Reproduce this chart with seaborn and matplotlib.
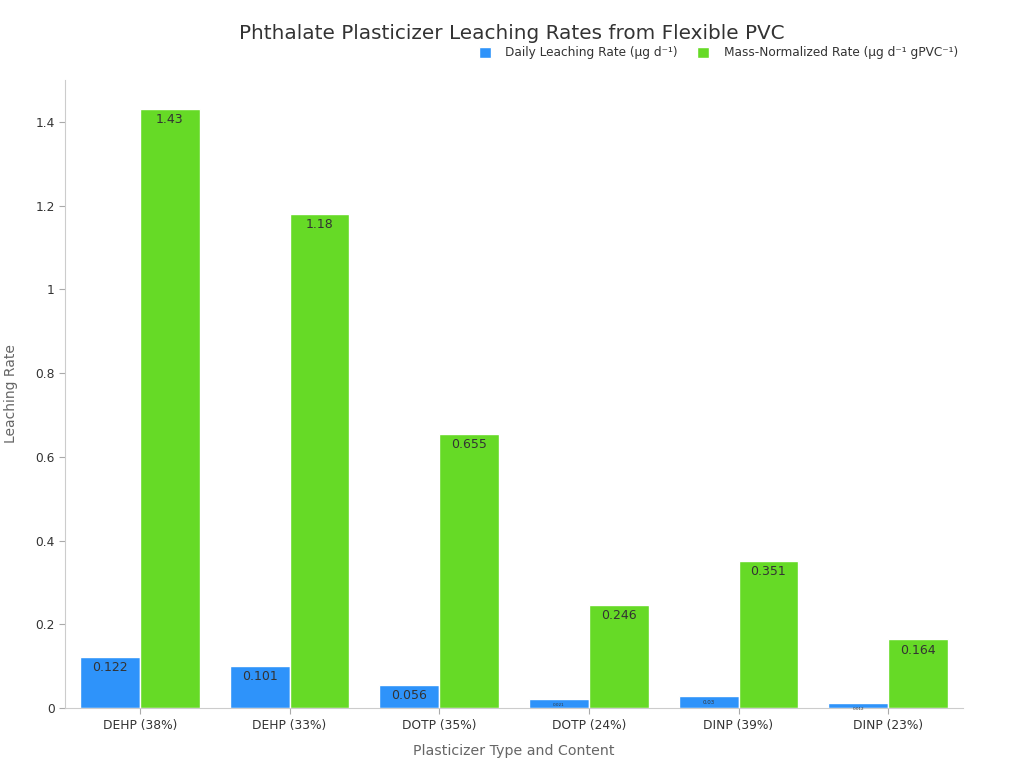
import matplotlib
matplotlib.use("Agg")
import matplotlib.pyplot as plt
import seaborn as sns
import pandas as pd
from matplotlib.ticker import FuncFormatter

categories = ["DEHP (38%)", "DEHP (33%)", "DOTP (35%)", "DOTP (24%)", "DINP (39%)", "DINP (23%)"]
daily_rate = [0.122, 0.101, 0.056, 0.021, 0.03, 0.012]
mass_rate = [1.43, 1.18, 0.655, 0.246, 0.351, 0.164]
series_names = ["Daily Leaching Rate (μg d⁻¹)", "Mass-Normalized Rate (μg d⁻¹ gPVC⁻¹)"]
colors = ["#2E93FA", "#66DA26"]

df = pd.DataFrame({
    "Category": categories * 2,
    "Series": [series_names[0]] * len(categories) + [series_names[1]] * len(categories),
    "Value": daily_rate + mass_rate,
})

sns.set_theme(style="white")
plt.rcParams['font.family'] = ['DejaVu Sans']

fig = plt.figure(figsize=(10.24, 7.68), dpi=100)
ax = fig.add_axes([0.0635, 0.078, 0.877, 0.818])

sns.barplot(data=df, x="Category", y="Value", hue="Series", palette=colors,
            width=0.8, ax=ax, edgecolor="white", linewidth=1, saturation=1)

ax.set_ylim(0, 1.5)
ax.set_xlim(-0.5, len(categories) - 0.5)
ax.set_yticks([0, 0.2, 0.4, 0.6, 0.8, 1.0, 1.2, 1.4])
ax.yaxis.set_major_formatter(FuncFormatter(lambda v, p: f"{v:g}"))
ax.tick_params(axis="both", labelsize=8.8, colors="#333333", length=4, width=0.8)
ax.tick_params(axis="x", bottom=True, color="#aaaaaa")
ax.tick_params(axis="y", left=True, color="#aaaaaa")
for s in ["top", "right"]:
    ax.spines[s].set_visible(False)
for s in ["left", "bottom"]:
    ax.spines[s].set_color("#cccccc")
    ax.spines[s].set_linewidth(0.8)

ax.set_xlabel("Plasticizer Type and Content", fontsize=10.2, color="#666666", labelpad=9)
ax.set_ylabel("Leaching Rate", fontsize=10, color="#666666", labelpad=12)

# value labels
for cont in ax.containers:
    for bar in cont:
        h = bar.get_height()
        px = h * 418
        if px > 20:
            fs = 9
        elif px > 10:
            fs = 4
        else:
            fs = 3
        txt = f"{h:g}"
        ax.annotate(txt, (bar.get_x() + bar.get_width() / 2, h), xytext=(0, -3),
                    textcoords="offset points", ha="center", va="top",
                    fontsize=fs, color="#333333")

fig.text(0.5, 0.957, "Phthalate Plasticizer Leaching Rates from Flexible PVC", fontsize=14.4,
         color="#333333", ha="center", va="center")
leg = ax.legend(loc="center right", bbox_to_anchor=(1.0, 1.043), ncol=2, frameon=False,
                fontsize=8.7, handlelength=1.0, handleheight=1.0, columnspacing=1.6,
                handletextpad=1.2, borderaxespad=0.0)
for t in leg.get_texts():
    t.set_color("#333333")

fig.savefig("out.png", dpi=100)
